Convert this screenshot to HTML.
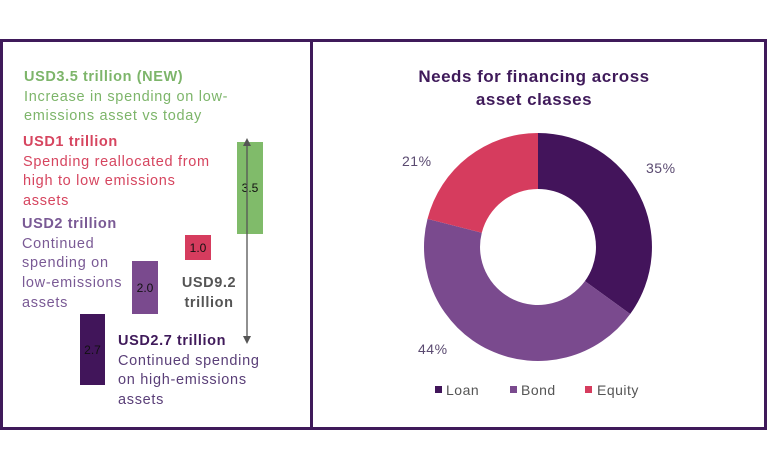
<!DOCTYPE html>
<html><head><meta charset="utf-8"><style>
body{margin:0;background:#fff;width:768px;height:471px;overflow:hidden;font-family:"Liberation Sans",sans-serif}
.box{position:absolute;border:3px solid #3f1a5a;box-sizing:border-box}
.t{position:absolute;font-size:14.5px;letter-spacing:0.7px;line-height:19.7px;white-space:nowrap}
b{font-weight:bold;letter-spacing:0.6px}
.bar{position:absolute;font-size:12px;display:flex;align-items:center;justify-content:center;color:#111}
</style></head><body>
<div class="box" style="left:0;top:39px;width:313px;height:391px"></div>
<div class="box" style="left:310px;top:39px;width:457px;height:391px"></div>

<div class="t" style="left:24px;top:68px;color:#7db56a"><b>USD3.5 trillion (NEW)</b><br>Increase in spending on low-<br>emissions asset vs today</div>
<div class="t" style="left:23px;top:133px;color:#d6455f"><b>USD1 trillion</b><br>Spending reallocated from<br>high to low emissions<br>assets</div>
<div class="t" style="left:22px;top:215px;color:#7a5a95"><b>USD2 trillion</b><br>Continued<br>spending on<br>low-emissions<br>assets</div>
<div class="t" style="left:118px;top:332px;color:#5a3f78"><b style="color:#3f1a5a">USD2.7 trillion</b><br>Continued spending<br>on high-emissions<br>assets</div>
<div class="t" style="left:176px;top:274px;color:#555;text-align:center;width:66px"><b>USD9.2<br>trillion</b></div>

<div class="bar" style="left:237px;top:142px;width:26px;height:92px;background:#80bb6a">3.5</div>
<div class="bar" style="left:185px;top:235px;width:26px;height:25px;background:#d63c5e">1.0</div>
<div class="bar" style="left:132px;top:261px;width:26px;height:53px;background:#7a4a8e">2.0</div>
<div class="bar" style="left:80px;top:314px;width:25px;height:71px;background:#41155a">2.7</div>

<svg style="position:absolute;left:0;top:0" width="768" height="471">
<line x1="247" y1="144" x2="247" y2="338" stroke="#555" stroke-width="1.3"/>
<polygon points="243,146 251,146 247,138" fill="#555"/>
<polygon points="243,336 251,336 247,344" fill="#555"/>
<g transform="translate(538,247)">
<path d="M0,-114 A114,114 0 0 1 92.2,67 L46.9,34.1 A58,58 0 0 0 0,-58 Z" fill="#43145b"/>
<path d="M92.2,67 A114,114 0 0 1 -110.5,-28.1 L-56.2,-14.3 A58,58 0 0 0 46.9,34.1 Z" fill="#7a4a8e"/>
<path d="M-110.5,-28.1 A114,114 0 0 1 0,-114 L0,-58 A58,58 0 0 0 -56.2,-14.3 Z" fill="#d63c5e"/>
</g>
<g font-family="Liberation Sans,sans-serif" font-size="14" fill="#5a4a70" letter-spacing="0.5">
<text x="646" y="173">35%</text>
<text x="402" y="166">21%</text>
<text x="418" y="354">44%</text>
</g>
<g font-family="Liberation Sans,sans-serif" font-size="17" font-weight="bold" fill="#3f1a5a" text-anchor="middle" letter-spacing="0.5">
<text x="534" y="82">Needs for financing across</text>
<text x="534" y="105">asset classes</text>
</g>
<g font-family="Liberation Sans,sans-serif" font-size="14" fill="#555" letter-spacing="0.5">
<rect x="435" y="386" width="7" height="7" fill="#41155a"/><text x="446" y="395">Loan</text>
<rect x="510" y="386" width="7" height="7" fill="#7a4a8e"/><text x="521" y="395">Bond</text>
<rect x="585" y="386" width="7" height="7" fill="#d63c5e"/><text x="597" y="395">Equity</text>
</g>
</svg>
</body></html>
